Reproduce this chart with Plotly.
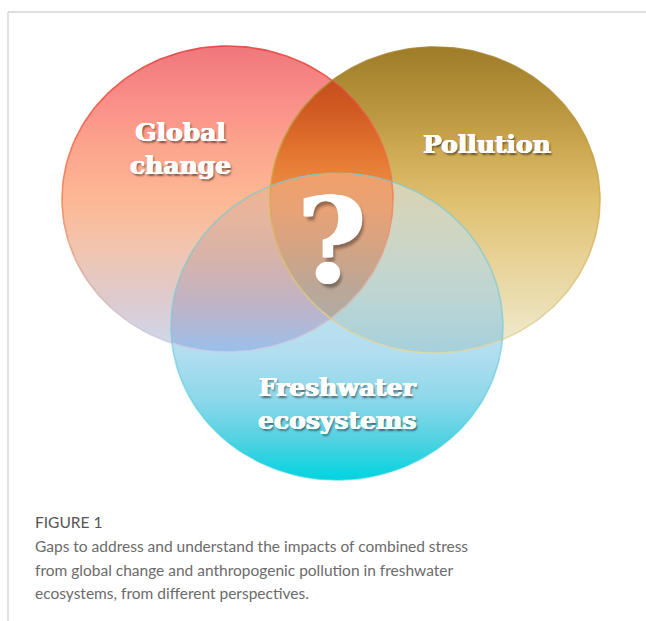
import numpy as np
import plotly.graph_objects as go

# ---------------- data ----------------
set_names = ["Global change", "Pollution", "Freshwater ecosystems"]
set_labels = ["Global<br>change", "Pollution", "Freshwater<br>ecosystems"]
center_label = "?"
caption_title = "FIGURE 1"
caption_lines = [
    "Gaps to address and understand the impacts of combined stress",
    "from global change and anthropogenic pollution in freshwater",
    "ecosystems, from different perspectives.",
]

# ---------------- layout / style ----------------
W, H = 646, 621
# ellipse geometry (pixel space): cx, cy, rx, ry
GEOM = {
    "Global change": (227.5, 199.0, 165.5, 153.0),
    "Pollution": (435.0, 200.0, 165.0, 153.0),
    "Freshwater ecosystems": (337.0, 326.5, 166.0, 153.5),
}
LABEL_POS = {
    "Global change": (180, 149),
    "Pollution": (487, 144),
    "Freshwater ecosystems": (337, 404),
}
# vertical gradient stops (absolute y, colour) for every region of the diagram
REGION_STYLE = [
    (("Global change",), [(46, "#EF777C"), (100, "#FA8E88"), (150, "#FCA68E"), (200, "#FDB894"),
                          (250, "#F1C5B0"), (300, "#DDCBCF"), (352, "#CCDAF0")]),
    (("Pollution",), [(47, "#9E7C28"), (100, "#B5923A"), (150, "#CDA952"), (200, "#DFC070"),
                      (250, "#E7CF90"), (300, "#EBDDB0"), (353, "#EFEDD6")]),
    (("Freshwater ecosystems",), [(173, "#D0E4EE"), (300, "#C0E0EE"), (352, "#B2DEF0"),
                                  (400, "#8CD8EA"), (440, "#52D2E2"), (480, "#00D4E0")]),
    (("Global change", "Pollution"), [(70, "#C24A1E"), (110, "#D15A22"), (150, "#E2742E"),
                                      (190, "#EC8C42"), (322, "#E8A070")]),
    (("Global change", "Freshwater ecosystems"), [(173, "#F0B38E"), (220, "#E6B59E"), (260, "#D6B3AA"),
                                                  (300, "#C2B3C4"), (330, "#AEB9DA"), (352, "#98C0EC")]),
    (("Pollution", "Freshwater ecosystems"), [(173, "#DCD2B0"), (220, "#D2D5BE"), (260, "#C8D6CA"),
                                              (300, "#BBD5D4"), (353, "#A6D0DC")]),
    (("Global change", "Pollution", "Freshwater ecosystems"), [(173, "#F0A06A"), (210, "#E8A276"),
                                                               (250, "#D2A485"), (290, "#BAA798"),
                                                               (322, "#AEADA6")]),
]
# outline colours: top, middle, bottom (rgb) + alpha
OUTLINE = {
    "Global change": ([(229, 57, 53), (243, 130, 80), (200, 208, 232)], 0.85),
    "Pollution": ([(160, 126, 42), (214, 172, 72), (224, 216, 168)], 0.85),
    "Freshwater ecosystems": ([(110, 200, 210), (110, 200, 212), (40, 205, 220)], 0.6),
}

N = 1440
t = np.linspace(0, 2 * np.pi, N, endpoint=False)


def boundary(name):
    cx, cy, rx, ry = GEOM[name]
    return cx + rx * np.cos(t), cy + ry * np.sin(t)


def inside(x, y, name, tol=1e-9):
    cx, cy, rx, ry = GEOM[name]
    return ((x - cx) / rx) ** 2 + ((y - cy) / ry) ** 2 <= 1 + tol


def region_polygon(members):
    xs, ys = [], []
    for m in members:
        bx, by = boundary(m)
        mask = np.ones_like(bx, dtype=bool)
        for o in members:
            if o != m:
                mask &= inside(bx, by, o)
        xs.append(bx[mask])
        ys.append(by[mask])
    x = np.concatenate(xs)
    y = np.concatenate(ys)
    mx, my = x.mean(), y.mean()
    order = np.argsort(np.arctan2(y - my, x - mx))
    x, y = x[order], y[order]
    return np.append(x, x[0]), np.append(y, y[0])


fig = go.Figure()

for members, stops in REGION_STYLE:
    px, py = region_polygon(members)
    y0, y1 = stops[0][0], stops[-1][0]
    cs = [[(yy - y0) / (y1 - y0), c] for yy, c in stops]
    fig.add_trace(go.Scatter(
        x=px, y=py, mode="lines", fill="toself", line=dict(width=0),
        fillgradient=dict(type="vertical", colorscale=cs, start=y0, stop=y1),
        hoverinfo="skip", showlegend=False,
    ))


def lerp(a, b, f):
    return tuple(int(round(a[i] + (b[i] - a[i]) * f)) for i in range(3))


# outlines, drawn as arcs with colour varying from top to bottom
SEG = 48
for name in set_names:
    cx, cy, rx, ry = GEOM[name]
    cols, alpha = OUTLINE[name]
    for k in range(SEG):
        tt = np.linspace(2 * np.pi * k / SEG, 2 * np.pi * (k + 1) / SEG, 12)
        ax = cx + rx * np.cos(tt)
        ay = cy + ry * np.sin(tt)
        f = (ay.mean() - (cy - ry)) / (2 * ry)
        c = lerp(cols[0], cols[1], f * 2) if f < 0.5 else lerp(cols[1], cols[2], (f - 0.5) * 2)
        fig.add_trace(go.Scatter(
            x=ax, y=ay, mode="lines",
            line=dict(width=1.6, color=f"rgba({c[0]},{c[1]},{c[2]},{alpha})"),
            hoverinfo="skip", showlegend=False,
        ))

HEAVY = "0.6px 0 0 white, -0.6px 0 0 white, 0 0.4px 0 white, "
label_font = dict(family="DejaVu Serif", size=25, color="white", weight="bold",
                  shadow=HEAVY + "1.5px 2px 2px rgba(0,0,0,0.5)")
for name, lab in zip(set_names, set_labels):
    x, y = LABEL_POS[name]
    fig.add_annotation(x=x, y=y, text=lab, showarrow=False, font=label_font,
                       xanchor="center", yanchor="middle")

fig.add_annotation(x=331, y=240, text=center_label, showarrow=False,
                   font=dict(family="DejaVu Serif", size=118, color="white", weight="bold",
                             shadow="1.5px 0 0 white, -1px 0 0 white, 3px 4px 3px rgba(0,0,0,0.35)"),
                   xanchor="center", yanchor="middle")

# caption
fig.add_annotation(x=33, y=522, text=caption_title, showarrow=False, xanchor="left", yanchor="middle",
                   font=dict(family="Lato", size=15.5, color="#555555"))
for i, line in enumerate(caption_lines):
    fig.add_annotation(x=33, y=546 + 23.5 * i, text=line, showarrow=False, xanchor="left",
                       yanchor="middle", font=dict(family="Lato", size=15.5, color="#6b6b6b"))

# frame lines
fig.add_shape(type="line", x0=8, x1=W, y0=12, y1=12, line=dict(color="#d4d4d4", width=1.5))
fig.add_shape(type="line", x0=8, x1=8, y0=12, y1=H, line=dict(color="#cfcfcf", width=1.2))

fig.update_layout(
    width=W, height=H, margin=dict(l=0, r=0, t=0, b=0),
    paper_bgcolor="white", plot_bgcolor="white",
    xaxis=dict(range=[0, W], visible=False, fixedrange=True),
    yaxis=dict(range=[H, 0], visible=False, fixedrange=True),
    showlegend=False,
)

fig.write_html(
    "out.html",
    config={"displayModeBar": False},
    post_script="document.body.style.margin='0';document.body.style.overflow='hidden';",
)
